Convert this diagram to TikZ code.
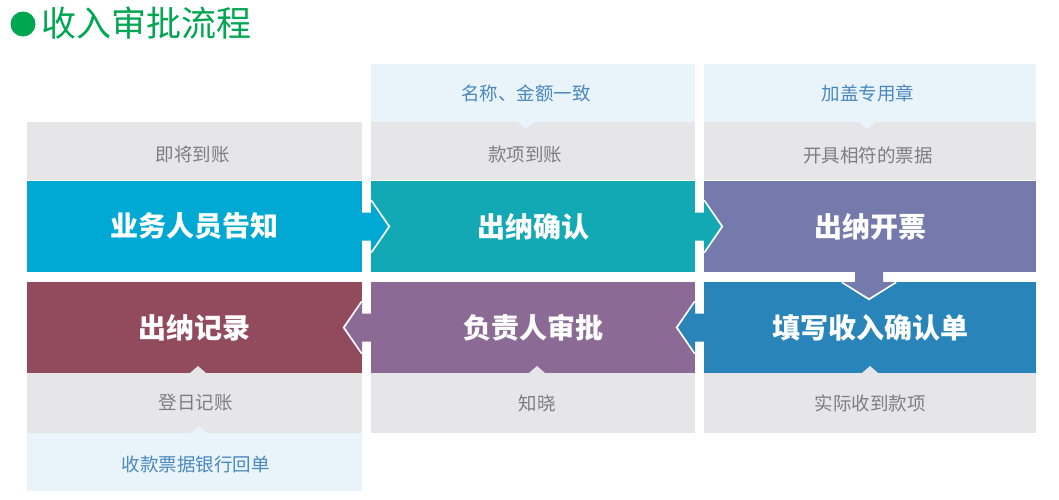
\documentclass[tikz,border=0pt]{standalone}
\usepackage{fontspec}
\setmainfont{Noto Sans CJK SC}
\usetikzlibrary{calc}
\definecolor{cA}{HTML}{00A8D4}
\definecolor{cB}{HTML}{12A8B4}
\definecolor{cC}{HTML}{747AAC}
\definecolor{cD}{HTML}{2884B9}
\definecolor{cE}{HTML}{8C6A96}
\definecolor{cF}{HTML}{924B5D}
\definecolor{grayb}{HTML}{E6E6E8}
\definecolor{blueb}{HTML}{E9F4FA}
\definecolor{graytxt}{HTML}{7E7E80}
\definecolor{bluetxt}{HTML}{4A88BE}
\definecolor{titlegreen}{HTML}{00A651}
\begin{document}
\begin{tikzpicture}[x=1pt,y=-1pt,
  box/.style={rectangle,inner sep=0pt,outer sep=0pt,anchor=north west},
  cbox/.style={box,text=white,font=\fontsize{28}{30}\selectfont\bfseries},
  gbox/.style={box,fill=grayb},
  lbox/.style={box,fill=blueb},
  gtxt/.style={text=graytxt,font=\fontsize{18.5}{20}\selectfont,inner sep=0pt},
  btxt/.style={text=bluetxt,font=\fontsize{18.5}{20}\selectfont,inner sep=0pt},
  outl/.style={white,line width=2.2pt,line join=miter}]
\useasboundingbox[fill=white] (0,0) rectangle (1059,499);
% title
\fill[titlegreen] (23,24) circle (12.5);
\node[anchor=west,inner sep=0pt,text=titlegreen,font=\fontsize{35}{38}\selectfont] (title) at (41,23) {收入审批流程};
% top light-blue boxes
\node[lbox,minimum width=324pt,minimum height=58pt] (t2) at (371,64) {};
\node[lbox,minimum width=332pt,minimum height=58pt] (t3) at (704,64) {};
\node[btxt] (t2t) at ($(t2.center)+(-7,0)$) {名称、金额一致};
\node[btxt] (t3t) at ($(t3.center)+(-2,0)$) {加盖专用章};
% gray row 1
\node[gbox,minimum width=335pt,minimum height=58pt] (g1) at (27,122) {};
\node[gbox,minimum width=324pt,minimum height=58pt] (g2) at (371,122) {};
\node[gbox,minimum width=332pt,minimum height=58pt] (g3) at (704,122) {};
\node[gtxt] (g1t) at ($(g1.center)+(-2,4)$) {即将到账};
\node[gtxt] (g2t) at ($(g2.center)+(-8,4)$) {款项到账};
\node[gtxt] (g3t) at ($(g3.center)+(-2,4)$) {开具相符的票据};
% small triangles top
\fill[blueb] (518,122) -- (534,122) -- (526,129) -- cycle;
\fill[blueb] (859,122) -- (875,122) -- (867,129) -- cycle;
% colored row 1
\node[cbox,fill=cA,minimum width=335pt,minimum height=91pt] (b1) at (27,181) {业务人员告知};
\node[cbox,fill=cB,minimum width=324pt,minimum height=91pt] (b2) at (371,181) {出纳确认};
\node[cbox,fill=cC,minimum width=332pt,minimum height=91pt] (b3) at (704,181) {出纳开票};
% colored row 2
\node[cbox,fill=cF,minimum width=335pt,minimum height=91pt] (b6) at (27,282) {出纳记录};
\node[cbox,fill=cE,minimum width=324pt,minimum height=91pt] (b5) at (371,282) {负责人审批};
\node[cbox,fill=cD,minimum width=332pt,minimum height=91pt] (b4) at (704,282) {填写收入确认单};
% gray row 2
\node[gbox,minimum width=335pt,minimum height=60pt] (h1) at (27,373) {};
\node[gbox,minimum width=324pt,minimum height=60pt] (h2) at (371,373) {};
\node[gbox,minimum width=332pt,minimum height=60pt] (h3) at (704,373) {};
\node[gtxt] (h1t) at ($(h1.center)+(1,0)$) {登日记账};
\node[gtxt] (h2t) at ($(h2.center)+(4,0)$) {知晓};
\node[gtxt] (h3t) at ($(h3.center)+(0,0)$) {实际收到款项};
% bottom light blue
\node[lbox,minimum width=335pt,minimum height=58pt] (u1) at (27,433) {};
\node[btxt] (u1t) at ($(u1.center)+(1,2)$) {收款票据银行回单};
% small triangles bottom
\fill[grayb] (190,373) -- (206,373) -- (198,366) -- cycle;
\fill[grayb] (529,373) -- (545,373) -- (537,366) -- cycle;
\fill[grayb] (862,373) -- (878,373) -- (870,366) -- cycle;
\fill[blueb] (191,433) -- (207,433) -- (199,426) -- cycle;
% arrow b1 -> b2
\begin{scope}[shift={(b1.east)}]
  \draw[outl] (9,-26) -- (27,0) -- (9,26);
  \fill[cA] (0,-14) -- (9,-14) -- (9,-25) -- (26,0) -- (9,25) -- (9,14) -- (0,14) -- cycle;
\end{scope}
% arrow b2 -> b3
\begin{scope}[shift={(b2.east)}]
  \draw[outl] (9,-26) -- (27,0) -- (9,26);
  \fill[cB] (0,-14) -- (9,-14) -- (9,-25) -- (26,0) -- (9,25) -- (9,14) -- (0,14) -- cycle;
\end{scope}
% arrow b3 -> b4 (down)
\begin{scope}[shift={($(b3.south)+(-1,0)$)}]
  \draw[outl] (-27,10) -- (0,27) -- (27,10);
  \fill[cC] (-14,0) -- (-14,10) -- (-26,10) -- (0,26) -- (26,10) -- (14,10) -- (14,0) -- cycle;
\end{scope}
% arrow b4 -> b5 (left)
\begin{scope}[shift={(b4.west)}]
  \draw[outl] (-9,-26) -- (-27,0) -- (-9,26);
  \fill[cD] (0,-14) -- (-9,-14) -- (-9,-25) -- (-26,0) -- (-9,25) -- (-9,14) -- (0,14) -- cycle;
\end{scope}
% arrow b5 -> b6 (left)
\begin{scope}[shift={(b5.west)}]
  \draw[outl] (-9,-26) -- (-27,0) -- (-9,26);
  \fill[cE] (0,-14) -- (-9,-14) -- (-9,-25) -- (-26,0) -- (-9,25) -- (-9,14) -- (0,14) -- cycle;
\end{scope}
\end{tikzpicture}
\end{document}
